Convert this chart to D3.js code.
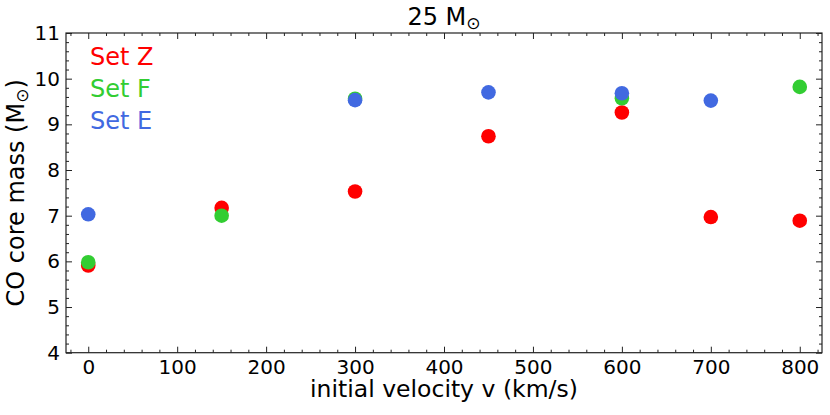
<!DOCTYPE html>
<html><head><meta charset="utf-8">
<script src="https://cdn.jsdelivr.net/npm/d3@7"></script>
<style>body{margin:0;background:#fff}svg{display:block;font-family:"DejaVu Sans",sans-serif}</style>
</head><body><svg id="c" width="830" height="415"></svg>
<script>
const seriesNames = ["Set Z", "Set F", "Set E"];
const seriesColors = ["#ff0000", "#32cd32", "#4169e1"];
const velZ = [0, 150, 300, 450, 600, 700, 800];
const massZ = [5.91, 7.17, 7.53, 8.74, 9.26, 6.97, 6.89];
const velF = [0, 150, 300, 600, 800];
const massF = [5.98, 7.0, 9.56, 9.57, 9.82];
const velE = [0, 300, 450, 600, 700];
const massE = [7.03, 9.53, 9.70, 9.68, 9.52];
const xTicks = [0, 100, 200, 300, 400, 500, 600, 700, 800];
const yTicks = [4, 5, 6, 7, 8, 9, 10, 11];

const svg = d3.select("#c");
const L = 66, R = 822, T = 33, B = 352.7;
const x = d3.scaleLinear().domain([-25, 825]).range([L, R]);
const y = d3.scaleLinear().domain([4, 11]).range([B, T]);
const axColor = "#222";

const xMinor = d3.range(-20, 821, 20).filter(v => v % 100 !== 0);
const yMinor = d3.range(4, 11.001, 0.2).filter(v => Math.abs(v - Math.round(v)) > 1e-6);

function styleAxis(g){ g.select(".domain").remove(); g.selectAll("line").attr("stroke", axColor).attr("stroke-width", 1); }

// bottom
svg.append("g").attr("transform", `translate(0,${B})`)
  .call(d3.axisBottom(x).tickValues(xTicks).tickSize(-6).tickPadding(7.5).tickFormat(d3.format("d")))
  .call(styleAxis).call(g => g.selectAll("text").attr("font-size", 20).attr("fill", "#000").attr("font-family", "DejaVu Sans"));
svg.append("g").attr("transform", `translate(0,${B})`)
  .call(d3.axisBottom(x).tickValues(xMinor).tickSize(-3).tickFormat("")).call(styleAxis);
// top
svg.append("g").attr("transform", `translate(0,${T})`)
  .call(d3.axisTop(x).tickValues(xTicks).tickSize(-6).tickFormat("")).call(styleAxis);
svg.append("g").attr("transform", `translate(0,${T})`)
  .call(d3.axisTop(x).tickValues(xMinor).tickSize(-3).tickFormat("")).call(styleAxis);
// left
svg.append("g").attr("transform", `translate(${L},0)`)
  .call(d3.axisLeft(y).tickValues(yTicks).tickSize(-6).tickPadding(6).tickFormat(d3.format("d")))
  .call(styleAxis).call(g => g.selectAll("text").attr("font-size", 20).attr("fill", "#000").attr("font-family", "DejaVu Sans"));
svg.append("g").attr("transform", `translate(${L},0)`)
  .call(d3.axisLeft(y).tickValues(yMinor).tickSize(-3).tickFormat("")).call(styleAxis);
// right
svg.append("g").attr("transform", `translate(${R},0)`)
  .call(d3.axisRight(y).tickValues(yTicks).tickSize(-6).tickFormat("")).call(styleAxis);
svg.append("g").attr("transform", `translate(${R},0)`)
  .call(d3.axisRight(y).tickValues(yMinor).tickSize(-3).tickFormat("")).call(styleAxis);

svg.append("rect").attr("x", L).attr("y", T).attr("width", R - L).attr("height", B - T)
  .attr("fill", "none").attr("stroke", axColor).attr("stroke-width", 1.2);

const series = [
  {v: velZ, m: massZ}, {v: velF, m: massF}, {v: velE, m: massE}
];
series.forEach((s, i) => {
  svg.append("g").selectAll("circle").data(s.v.map((v, j) => [v, s.m[j]])).join("circle")
    .attr("cx", d => x(d[0])).attr("cy", d => y(d[1])).attr("r", 7.3).attr("fill", seriesColors[i]);
});

// legend
seriesNames.forEach((n, i) => {
  svg.append("text").attr("x", 90).attr("y", 65 + i * 32.2).attr("font-size", 24)
    .attr("fill", seriesColors[i]).text(n);
});

// title
const t = svg.append("text").attr("x", 444).attr("y", 25).attr("text-anchor", "middle").attr("font-size", 24).attr("fill", "#000");
t.append("tspan").text("25 M");
t.append("tspan").attr("font-size", 17).attr("dy", 4).text("⊙");

// x label
svg.append("text").attr("x", 444).attr("y", 397).attr("text-anchor", "middle").attr("font-size", 23.5).attr("fill", "#000")
  .text("initial velocity v (km/s)");
// y label
const yl = svg.append("text").attr("transform", `translate(23.5,${(T + B) / 2}) rotate(-90)`).attr("text-anchor", "middle")
  .attr("font-size", 24).attr("fill", "#000");
yl.append("tspan").text("CO core mass (M");
yl.append("tspan").attr("font-size", 17).attr("dy", 4).text("⊙");
yl.append("tspan").attr("dy", -4).text(")");
</script></body></html>
